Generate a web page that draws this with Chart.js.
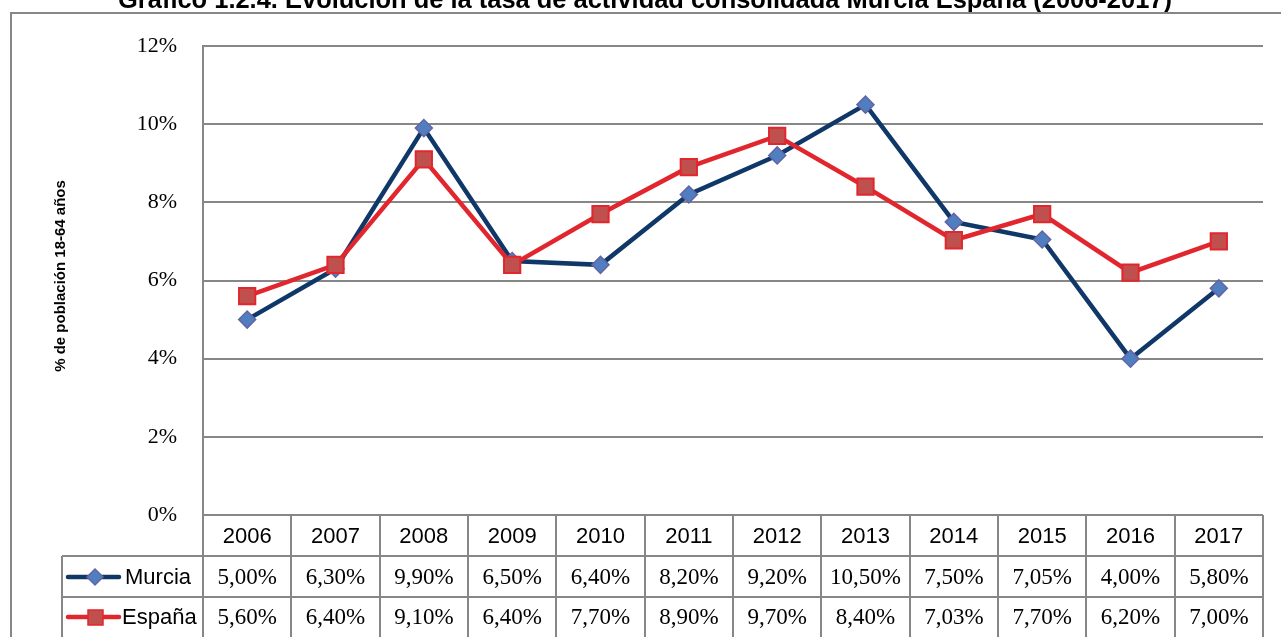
<!DOCTYPE html>
<html>
<head>
<meta charset="utf-8">
<script src="https://cdn.jsdelivr.net/npm/chart.js@4"></script>
<style>
html,body{margin:0;padding:0;background:#fff;}
canvas{display:block;}
</style>
</head>
<body>
<canvas id="c" width="1281" height="637"></canvas>
<script>
const titleText = "Gráfico 1.2.4. Evolución de la tasa de actividad consolidada Murcia España (2006-2017)";
const yAxisTitle = "% de población 18-64 años";
const years = ["2006","2007","2008","2009","2010","2011","2012","2013","2014","2015","2016","2017"];
const murcia = [5.00, 6.30, 9.90, 6.50, 6.40, 8.20, 9.20, 10.50, 7.50, 7.05, 4.00, 5.80];
const espana = [5.60, 6.40, 9.10, 6.40, 7.70, 8.90, 9.70, 8.40, 7.03, 7.70, 6.20, 7.00];
const seriesNames = ["Murcia", "España"];
const yTicks = [0, 2, 4, 6, 8, 10, 12];

const GRID = '#878787';
const NAVY = '#0f3868';
const RED = '#e2262e';

function fmt(v){ return v.toFixed(2).replace('.', ',') + '%'; }

const extras = {
  id: 'extras',
  beforeDraw(chart){
    const ctx = chart.ctx;
    ctx.save();
    ctx.fillStyle = '#fff';
    ctx.fillRect(0, 0, chart.width, chart.height);
    ctx.restore();
  },
  afterDraw(chart){
    const ctx = chart.ctx;
    const ca = chart.chartArea;
    const xs = chart.scales.x;
    ctx.save();
    // title (cut off at top)
    ctx.font = 'bold 20px "Liberation Sans", Arial, sans-serif';
    let w = ctx.measureText(titleText).width;
    const fs = 20 * 1054 / w;
    ctx.font = 'bold ' + fs.toFixed(2) + 'px "Liberation Sans", Arial, sans-serif';
    ctx.fillStyle = '#000';
    ctx.textAlign = 'center';
    ctx.textBaseline = 'alphabetic';
    ctx.fillText(titleText, 645, 8);

    // outer border
    ctx.strokeStyle = GRID;
    ctx.lineWidth = 2;
    ctx.beginPath();
    ctx.moveTo(11, 640);
    ctx.lineTo(11, 13);
    ctx.lineTo(1285, 13);
    ctx.stroke();

    // y axis title
    ctx.save();
    ctx.translate(61, 276);
    ctx.rotate(-Math.PI/2);
    ctx.font = 'bold 15px "Liberation Sans", Arial, sans-serif';
    ctx.textAlign = 'center';
    ctx.textBaseline = 'middle';
    ctx.fillText(yAxisTitle, 0, 0);
    ctx.restore();

    // data table
    const top = ca.bottom;
    const r1 = 556, r2 = 597, bottom = 640;
    const n = years.length;
    const colW = (ca.right - ca.left) / n;
    ctx.strokeStyle = GRID;
    ctx.lineWidth = 2;
    ctx.beginPath();
    for (let k = 0; k <= n; k++) {
      const x = Math.round(ca.left + k * colW);
      ctx.moveTo(x, top); ctx.lineTo(x, bottom);
    }
    ctx.moveTo(62, r1); ctx.lineTo(ca.right, r1);
    ctx.moveTo(62, r2); ctx.lineTo(ca.right, r2);
    ctx.moveTo(62, r1); ctx.lineTo(62, bottom);
    ctx.stroke();

    ctx.fillStyle = '#000';
    ctx.textAlign = 'center';
    ctx.textBaseline = 'middle';
    ctx.font = '22px "Liberation Sans", Arial, sans-serif';
    years.forEach((y, i) => ctx.fillText(y, xs.getPixelForValue(i), (top + r1) / 2 + 1));
    ctx.font = '23px "Liberation Serif", "Times New Roman", serif';
    murcia.forEach((v, i) => ctx.fillText(fmt(v), xs.getPixelForValue(i), (r1 + r2) / 2 + 1));
    espana.forEach((v, i) => ctx.fillText(fmt(v), xs.getPixelForValue(i), r2 + 20 + 1));

    // legend keys
    const drawKey = (cy, color, marker) => {
      ctx.strokeStyle = color;
      ctx.lineWidth = 4.5;
      ctx.lineCap = 'round';
      ctx.beginPath(); ctx.moveTo(68, cy); ctx.lineTo(119, cy); ctx.stroke();
      ctx.lineCap = 'butt';
      ctx.lineWidth = 1.5;
      if (marker === 'diamond') {
        ctx.fillStyle = '#4f7fc0'; ctx.strokeStyle = '#6464a4';
        ctx.beginPath();
        ctx.moveTo(95, cy - 8); ctx.lineTo(103, cy); ctx.lineTo(95, cy + 8); ctx.lineTo(87, cy); ctx.closePath();
        ctx.fill(); ctx.stroke();
      } else {
        ctx.fillStyle = '#c0504d'; ctx.strokeStyle = '#e2262e';
        ctx.fillRect(88, cy - 7, 15, 15); ctx.strokeRect(88, cy - 7, 15, 15);
      }
    };
    drawKey(577, NAVY, 'diamond');
    drawKey(617, RED, 'square');
    ctx.fillStyle = '#000';
    ctx.textAlign = 'left';
    ctx.font = '22px "Liberation Sans", Arial, sans-serif';
    ctx.fillText(seriesNames[0], 125, 578);
    ctx.fillText(seriesNames[1], 122, 618);
    ctx.restore();
  }
};

new Chart(document.getElementById('c'), {
  type: 'line',
  data: {
    labels: years,
    datasets: [
      {
        label: seriesNames[0],
        data: murcia,
        borderColor: NAVY,
        borderWidth: 4.5,
        pointStyle: 'rectRot',
        pointRadius: 8.5,
        pointBackgroundColor: '#4f7fc0',
        pointBorderColor: '#6464a4',
        pointBorderWidth: 1.5,
        tension: 0,
        order: 1
      },
      {
        label: seriesNames[1],
        data: espana,
        borderColor: RED,
        borderWidth: 4.5,
        pointStyle: 'rect',
        pointRadius: 11.5,
        pointBackgroundColor: '#c0504d',
        pointBorderColor: '#e2262e',
        pointBorderWidth: 2,
        tension: 0,
        order: 0
      }
    ]
  },
  options: {
    responsive: false,
    animation: false,
    devicePixelRatio: 1,
    layout: { padding: { top: 46, right: 18, left: 0, bottom: 0 } },
    plugins: { legend: { display: false }, tooltip: { enabled: false }, title: { display: false } },
    scales: {
      x: {
        type: 'category',
        offset: true,
        grid: { display: false },
        border: { display: false },
        ticks: { display: false },
        afterFit(s){ s.height = 122; }
      },
      y: {
        min: 0,
        max: 12,
        afterBuildTicks(s){ s.ticks = yTicks.map(v => ({ value: v })); },
        ticks: {
          callback: v => v + '%',
          color: '#000',
          padding: 26,
          font: { family: '"Liberation Serif", "Times New Roman", serif', size: 22 }
        },
        grid: { color: GRID, lineWidth: 2, drawTicks: false },
        border: { display: true, color: GRID, width: 2 },
        afterFit(s){ s.width = 203; }
      }
    }
  },
  plugins: [extras]
});
</script>
</body>
</html>
